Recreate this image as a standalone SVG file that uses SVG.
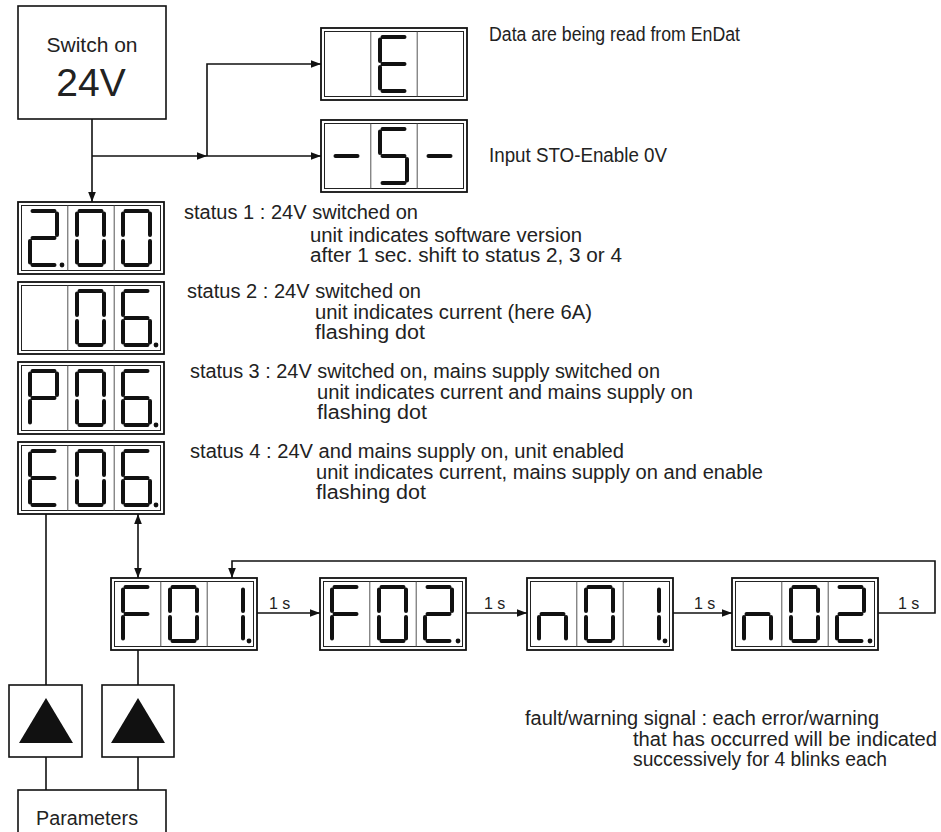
<svg xmlns="http://www.w3.org/2000/svg" xmlns:xlink="http://www.w3.org/1999/xlink" width="941" height="832" viewBox="0 0 941 832">
<style>
.bx{fill:#fff;stroke:#111;stroke-width:1.6}
.do{fill:#fff;stroke:#111;stroke-width:1.8}
.di{fill:none;stroke:#222;stroke-width:1}
.dv{stroke:#555;stroke-width:1}
.seg{fill:none;stroke:#111;stroke-width:4;stroke-linecap:round;stroke-linejoin:round}
.dot{fill:#111}
.ln{fill:none;stroke:#111;stroke-width:1.6}
.t{font-family:"Liberation Sans",Arial,sans-serif;font-size:20px;fill:#222}
.ts{font-family:"Liberation Sans",Arial,sans-serif;font-size:16px;fill:#222}
.tri{fill:#111}
</style>
<defs>
<marker id="ah" viewBox="0 0 10 10" refX="10" refY="5" markerWidth="10" markerHeight="10" markerUnits="userSpaceOnUse" orient="auto-start-reverse"><path d="M0 1.2 L10 5 L0 8.8 z" fill="#111"/></marker>
<path id="d0" class="seg" d="M2.5 0H24.5M27 2.5V24M27 30V51.5M2.5 54H24.5M0 30V51.5M0 2.5V24"/>
<path id="d1" class="seg" d="M27 2.5V24M27 30V51.5"/>
<path id="d2" class="seg" d="M2.5 0H24.5M27 2.5V24M2.5 27H24.5M0 30V51.5M2.5 54H24.5"/>
<path id="d5" class="seg" d="M2.5 0H24.5M0 2.5V24M2.5 27H24.5M27 30V51.5M2.5 54H24.5"/>
<path id="d6" class="seg" d="M2.5 0H24.5M0 2.5V24M2.5 27H24.5M0 30V51.5M27 30V51.5M2.5 54H24.5"/>
<path id="dE" class="seg" d="M2.5 0H24.5M0 2.5V24M2.5 27H24.5M0 30V51.5M2.5 54H24.5"/>
<path id="dF" class="seg" d="M2.5 0H24.5M0 2.5V24M2.5 27H24.5M0 30V51.5"/>
<path id="dP" class="seg" d="M2.5 0H24.5M27 2.5V24M0 2.5V24M2.5 27H24.5M0 30V51.5"/>
<path id="dn" class="seg" d="M2.5 27H24.5M0 30V51.5M27 30V51.5"/>
<path id="dm" class="seg" d="M2.5 27H24.5"/>
<g id="frame">
<rect class="do" x="0" y="0" width="146" height="72"/>
<rect class="di" x="3.5" y="3.5" width="139" height="65"/>
<line class="dv" x1="49.8" y1="3.5" x2="49.8" y2="68.5"/>
<line class="dv" x1="96.2" y1="3.5" x2="96.2" y2="68.5"/>
</g>
<circle id="pt" class="dot" r="2.4"/>
</defs>

<g id="switch-on">
<rect class="bx" x="18" y="6" width="148" height="113"/>
<text class="t" x="92" y="52" text-anchor="middle" style="font-size:21px">Switch on</text>
<text class="t" x="91" y="96" text-anchor="middle" style="font-size:39px">24V</text>
</g>

<g id="disp-E">
<use xlink:href="#frame" x="321" y="28"/>
<use xlink:href="#dE" x="380" y="37"/>
<text class="t" x="489" y="41" textLength="251" lengthAdjust="spacingAndGlyphs">Data are being read from EnDat</text>
</g>

<g id="disp-S">
<use xlink:href="#frame" x="321" y="120"/>
<use xlink:href="#dm" x="333" y="129"/>
<use xlink:href="#d5" x="380" y="129"/>
<use xlink:href="#dm" x="426" y="129"/>
<text class="t" x="489" y="162" textLength="178" lengthAdjust="spacingAndGlyphs">Input STO-Enable 0V</text>
</g>

<g id="status-1">
<use xlink:href="#frame" x="18" y="202"/>
<use xlink:href="#d2" x="30" y="211"/>
<use xlink:href="#pt" x="62" y="265"/>
<use xlink:href="#d0" x="77" y="211"/>
<use xlink:href="#d0" x="123" y="211"/>
<text class="t" x="184" y="219" textLength="234" lengthAdjust="spacingAndGlyphs">status 1 : 24V switched on</text>
<text class="t" x="310" y="242" textLength="272" lengthAdjust="spacingAndGlyphs">unit indicates software version</text>
<text class="t" x="310" y="262" textLength="312" lengthAdjust="spacingAndGlyphs">after 1 sec. shift to status 2, 3 or 4</text>
</g>

<g id="status-2">
<use xlink:href="#frame" x="18" y="282"/>
<use xlink:href="#d0" x="77" y="291"/>
<use xlink:href="#d6" x="123" y="291"/>
<use xlink:href="#pt" x="156" y="345"/>
<text class="t" x="187" y="298" textLength="234" lengthAdjust="spacingAndGlyphs">status 2 : 24V switched on</text>
<text class="t" x="315" y="319" textLength="277" lengthAdjust="spacingAndGlyphs">unit indicates current (here 6A)</text>
<text class="t" x="315" y="339" textLength="110" lengthAdjust="spacingAndGlyphs">flashing dot</text>
</g>

<g id="status-3">
<use xlink:href="#frame" x="18" y="362"/>
<use xlink:href="#dP" x="30" y="371"/>
<use xlink:href="#d0" x="77" y="371"/>
<use xlink:href="#d6" x="123" y="371"/>
<use xlink:href="#pt" x="156" y="425"/>
<text class="t" x="190" y="378" textLength="470" lengthAdjust="spacingAndGlyphs">status 3 : 24V switched on, mains supply switched on</text>
<text class="t" x="317" y="399" textLength="376" lengthAdjust="spacingAndGlyphs">unit indicates current and mains supply on</text>
<text class="t" x="317" y="419" textLength="110" lengthAdjust="spacingAndGlyphs">flashing dot</text>
</g>

<g id="status-4">
<use xlink:href="#frame" x="18" y="442"/>
<use xlink:href="#dE" x="30" y="451"/>
<use xlink:href="#d0" x="77" y="451"/>
<use xlink:href="#d6" x="123" y="451"/>
<use xlink:href="#pt" x="156" y="505"/>
<text class="t" x="190" y="458" textLength="434" lengthAdjust="spacingAndGlyphs">status 4 : 24V and mains supply on, unit enabled</text>
<text class="t" x="316" y="479" textLength="447" lengthAdjust="spacingAndGlyphs">unit indicates current, mains supply on and enable</text>
<text class="t" x="316" y="499" textLength="110" lengthAdjust="spacingAndGlyphs">flashing dot</text>
</g>

<g id="F01">
<use xlink:href="#frame" x="111" y="578"/>
<use xlink:href="#dF" x="123" y="587"/>
<use xlink:href="#d0" x="170" y="587"/>
<use xlink:href="#d1" x="216" y="587"/>
<use xlink:href="#pt" x="249" y="641"/>
</g>
<g id="F02">
<use xlink:href="#frame" x="320" y="578"/>
<use xlink:href="#dF" x="332" y="587"/>
<use xlink:href="#d0" x="379" y="587"/>
<use xlink:href="#d2" x="425" y="587"/>
<use xlink:href="#pt" x="458" y="641"/>
</g>
<g id="n01">
<use xlink:href="#frame" x="527" y="578"/>
<use xlink:href="#dn" x="539" y="587"/>
<use xlink:href="#d0" x="586" y="587"/>
<use xlink:href="#d1" x="632" y="587"/>
<use xlink:href="#pt" x="665" y="641"/>
</g>
<g id="n02">
<use xlink:href="#frame" x="732" y="578"/>
<use xlink:href="#dn" x="744" y="587"/>
<use xlink:href="#d0" x="791" y="587"/>
<use xlink:href="#d2" x="837" y="587"/>
<use xlink:href="#pt" x="870" y="641"/>
</g>

<g id="fault-text">
<text class="t" x="525" y="725" textLength="354" lengthAdjust="spacingAndGlyphs">fault/warning signal : each error/warning</text>
<text class="t" x="633" y="746" textLength="304" lengthAdjust="spacingAndGlyphs">that has occurred will be indicated</text>
<text class="t" x="633" y="766" textLength="254" lengthAdjust="spacingAndGlyphs">successively for 4 blinks each</text>
</g>

<g id="key-left">
<rect class="bx" x="9" y="685" width="73" height="72"/>
<path class="tri" d="M19 743 L73 743 L46 698 z"/>
</g>
<g id="key-right">
<rect class="bx" x="102" y="685" width="72" height="72"/>
<path class="tri" d="M111 743 L165 743 L138 698 z"/>
</g>
<g id="parameters">
<rect class="bx" x="18" y="790" width="148" height="60"/>
<text class="t" x="87" y="825" text-anchor="middle" textLength="102" lengthAdjust="spacingAndGlyphs">Parameters</text>
</g>

<g id="connectors">
<path class="ln" d="M92 119 V202" marker-end="url(#ah)"/>
<path class="ln" d="M92 156 H207" marker-end="url(#ah)"/>
<path class="ln" d="M207 156 H321" marker-end="url(#ah)"/>
<path class="ln" d="M207 156 V64 H321" marker-end="url(#ah)"/>
<path class="ln" d="M138 514 V578" marker-start="url(#ah)" marker-end="url(#ah)"/>
<path class="ln" d="M46 514 V685"/>
<path class="ln" d="M138 650 V685"/>
<path class="ln" d="M46 757 V790"/>
<path class="ln" d="M138 757 V790"/>
<path class="ln" d="M257 613 H320" marker-end="url(#ah)"/>
<path class="ln" d="M466 613 H527" marker-end="url(#ah)"/>
<path class="ln" d="M673 613 H732" marker-end="url(#ah)"/>
<path class="ln" d="M878 613 H935 V561 H232 V578" marker-end="url(#ah)"/>
<text class="ts" x="269" y="609">1 s</text>
<text class="ts" x="484" y="609">1 s</text>
<text class="ts" x="694" y="609">1 s</text>
<text class="ts" x="898" y="609">1 s</text>
</g>
</svg>
